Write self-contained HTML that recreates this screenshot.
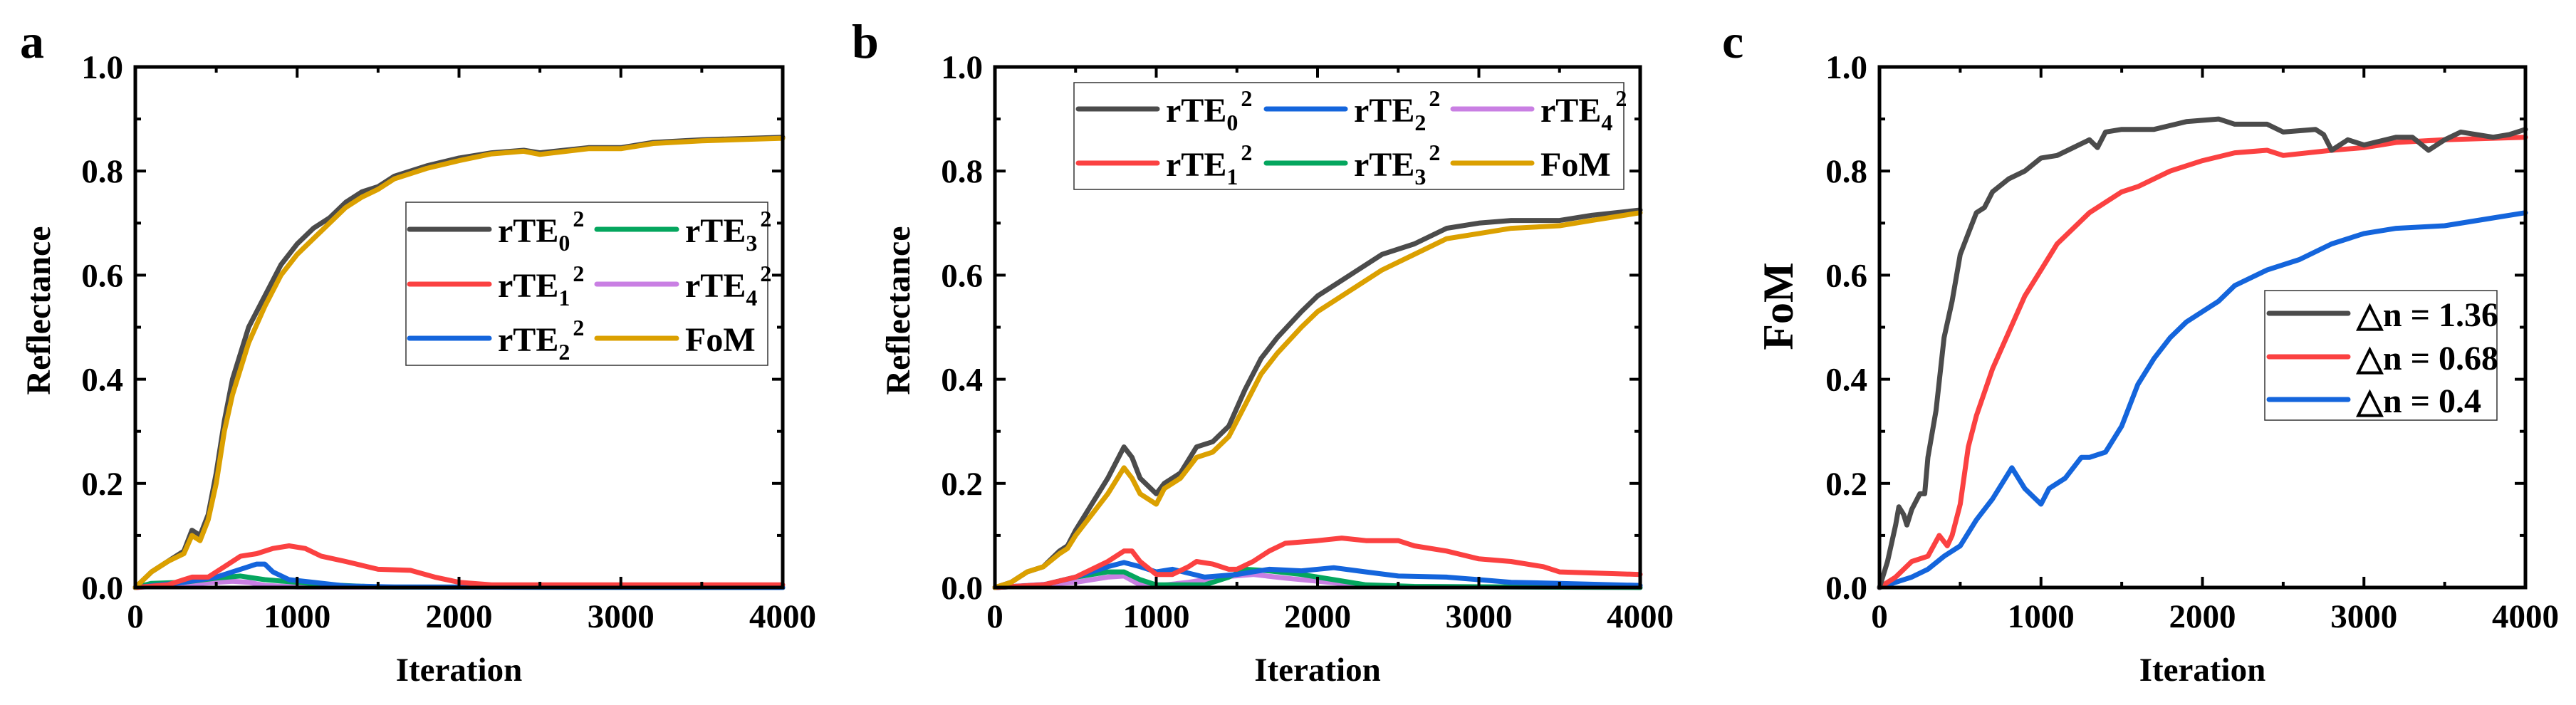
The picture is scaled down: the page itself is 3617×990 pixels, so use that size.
<!DOCTYPE html>
<html><head><meta charset="utf-8"><style>
html,body{margin:0;padding:0;background:#fff;}
svg{display:block;font-family:"Liberation Serif",serif;font-weight:bold;}
</style></head><body>
<svg id="fig" width="3617" height="990" viewBox="0 0 3617 990" xmlns="http://www.w3.org/2000/svg"></svg>
<script>
// ---------- Data (iteration, value) ----------
const xTicks = [0,1000,2000,3000,4000];
const yTicks = [0.0,0.2,0.4,0.6,0.8,1.0];
const yTickLabels = ["0.0","0.2","0.4","0.6","0.8","1.0"];

const aIter0 = [0,100,200,300,350,400,450,500,550,600,700,800,900,1000,1100,1200,1300,1400,1500,1600,1800,2000,2200,2400,2500,2800,3000,3200,3500,4000];
const aTE0   = [0,0.03,0.05,0.07,0.11,0.10,0.14,0.22,0.32,0.40,0.50,0.56,0.62,0.66,0.69,0.71,0.74,0.76,0.77,0.79,0.81,0.825,0.835,0.84,0.835,0.845,0.845,0.855,0.86,0.865];
const aFoM   = [0,0.03,0.05,0.065,0.10,0.09,0.13,0.20,0.30,0.37,0.47,0.54,0.60,0.64,0.67,0.70,0.73,0.75,0.765,0.785,0.805,0.82,0.833,0.838,0.832,0.843,0.843,0.853,0.858,0.863];
const aIter1 = [0,200,350,450,550,650,750,850,950,1050,1150,1300,1500,1700,1850,2000,2200,4000];
const aTE1   = [0,0.005,0.02,0.02,0.04,0.06,0.065,0.075,0.08,0.075,0.06,0.05,0.035,0.033,0.02,0.01,0.005,0.005];
const aIter2 = [0,300,500,650,750,800,850,950,1100,1300,1600,4000];
const aTE2   = [0,0.01,0.02,0.035,0.045,0.045,0.03,0.015,0.01,0.003,0.001,0];
const aIter3 = [0,100,300,500,650,800,1000,1200,1500,4000];
const aTE3   = [0,0.008,0.01,0.018,0.022,0.015,0.01,0.005,0.001,0];
const aIter4 = [0,400,600,700,800,1000,4000];
const aTE4   = [0,0.008,0.012,0.01,0.004,0.001,0];

const bIter0 = [0,100,200,300,400,450,500,600,700,800,850,900,1000,1050,1150,1250,1350,1450,1550,1650,1750,1900,2000,2100,2200,2400,2600,2800,3000,3200,3500,3700,4000];
const bTE0   = [0,0.01,0.03,0.04,0.07,0.08,0.11,0.16,0.21,0.27,0.25,0.21,0.18,0.20,0.22,0.27,0.28,0.31,0.38,0.44,0.48,0.53,0.56,0.58,0.60,0.64,0.66,0.69,0.70,0.705,0.705,0.715,0.725];
const bFoM   = [0,0.01,0.03,0.04,0.065,0.075,0.10,0.14,0.18,0.23,0.21,0.18,0.16,0.19,0.21,0.25,0.26,0.29,0.35,0.41,0.45,0.50,0.53,0.55,0.57,0.61,0.64,0.67,0.68,0.69,0.695,0.705,0.72];
const bIter1 = [0,300,500,700,800,850,900,1000,1100,1200,1250,1350,1450,1500,1600,1700,1800,2000,2150,2300,2500,2600,2800,3000,3200,3400,3500,4000];
const bTE1   = [0,0.005,0.02,0.05,0.07,0.07,0.05,0.025,0.025,0.04,0.05,0.045,0.035,0.035,0.05,0.07,0.085,0.09,0.095,0.09,0.09,0.08,0.07,0.055,0.05,0.04,0.03,0.025];
const bIter2 = [0,300,500,700,800,900,1000,1100,1300,1500,1700,1900,2100,2300,2500,2800,3000,3200,3500,4000];
const bTE2   = [0,0.005,0.02,0.04,0.048,0.04,0.03,0.035,0.02,0.025,0.035,0.032,0.038,0.03,0.022,0.02,0.015,0.01,0.008,0.004];
const bIter3 = [0,300,500,700,800,900,1000,1300,1450,1550,1700,1900,2100,2300,2600,4000];
const bTE3   = [0,0.005,0.02,0.03,0.03,0.015,0.005,0.005,0.02,0.035,0.032,0.025,0.015,0.005,0.002,0];
const bIter4 = [0,500,700,800,900,1000,1200,1400,1600,1800,2000,2200,2500,4000];
const bTE4   = [0,0.01,0.02,0.022,0.005,0.003,0.01,0.02,0.025,0.018,0.012,0.006,0.002,0];

const cIterA = [0,50,100,120,150,170,200,250,280,300,350,400,450,500,550,600,650,700,800,900,1000,1100,1200,1300,1350,1400,1500,1700,1900,2100,2200,2400,2500,2700,2750,2800,2900,3000,3200,3300,3400,3500,3600,3800,3900,4000];
const cDn136 = [0,0.05,0.12,0.155,0.14,0.12,0.15,0.18,0.18,0.25,0.34,0.48,0.55,0.64,0.68,0.72,0.73,0.76,0.785,0.80,0.825,0.83,0.845,0.86,0.845,0.875,0.88,0.88,0.895,0.90,0.89,0.89,0.875,0.88,0.87,0.84,0.86,0.85,0.865,0.865,0.84,0.86,0.875,0.865,0.87,0.88];
const cIterB = [0,100,200,300,370,420,450,500,550,600,700,800,900,1000,1100,1200,1300,1400,1500,1600,1800,2000,2200,2400,2500,2800,3000,3200,3500,4000];
const cDn068 = [0,0.02,0.05,0.06,0.10,0.08,0.10,0.16,0.27,0.33,0.42,0.49,0.56,0.61,0.66,0.69,0.72,0.74,0.76,0.77,0.80,0.82,0.835,0.84,0.83,0.84,0.845,0.855,0.86,0.865];
const cIterC = [0,100,200,300,400,500,600,700,820,900,1000,1050,1150,1250,1300,1400,1500,1600,1700,1800,1900,2000,2100,2200,2400,2600,2800,3000,3200,3500,3800,4000];
const cDn04  = [0,0.01,0.02,0.035,0.06,0.08,0.13,0.17,0.23,0.19,0.16,0.19,0.21,0.25,0.25,0.26,0.31,0.39,0.44,0.48,0.51,0.53,0.55,0.58,0.61,0.63,0.66,0.68,0.69,0.695,0.71,0.72];

const C = {te0:"#4b4b4b", te1:"#fb4141", te2:"#1465dc", te3:"#04a65e", te4:"#c97fe3", fom:"#dba000"};
const NS = "http://www.w3.org/2000/svg";
const svg = document.getElementById('fig');
function mk(tag, attrs, parent){ const e=document.createElementNS(NS,tag); for(const k in attrs) e.setAttribute(k,attrs[k]); (parent||svg).appendChild(e); return e; }

function panel(P){
  const g = mk('g',{});
  
  
  const sx = v => P.x0 + (v/4000)*(P.x1-P.x0);
  const sy = v => P.y1 - v*(P.y1-P.y0);
  P.series.forEach(s=>{
    let d=''; s.x.forEach((xv,i)=>{ d += (i?'L':'M')+sx(xv).toFixed(1)+','+sy(s.y[i]).toFixed(1); });
    const p = mk('path',{d:d, fill:'none', stroke:s.color, 'stroke-width':7, 'stroke-linejoin':'round', 'stroke-linecap':'round'}, g);
    
    
  });
  const fr = mk('rect',{x:P.x0,y:P.y0,width:P.x1-P.x0,height:P.y1-P.y0,fill:'none',stroke:'#000','stroke-width':5}, g);
  
  
  for(let v=0; v<=4000; v+=500){
    const X=sx(v), L=(v%1000===0)?15:8;
    mk('line',{x1:X,y1:P.y1,x2:X,y2:P.y1-L,stroke:'#000','stroke-width':4},g);
    mk('line',{x1:X,y1:P.y0,x2:X,y2:P.y0+L,stroke:'#000','stroke-width':4},g);
  }
  xTicks.forEach(v=>{
    const t=mk('text',{x:sx(v),y:P.y1+56,'font-size':47,'text-anchor':'middle'},g); t.textContent=v;
    
    
  });
  for(let i=0;i<=10;i++){
    const v=i/10, Y=sy(v), L=(i%2===0)?15:8;
    mk('line',{x1:P.x0,y1:Y,x2:P.x0+L,y2:Y,stroke:'#000','stroke-width':4},g);
    mk('line',{x1:P.x1,y1:Y,x2:P.x1-L,y2:Y,stroke:'#000','stroke-width':4},g);
  }
  yTicks.forEach((v,i)=>{
    const t=mk('text',{x:P.x0-17,y:sy(v)+16,'font-size':47,'text-anchor':'end'},g); t.textContent=yTickLabels[i];
    
    
  });
  const xt=mk('text',{x:(P.x0+P.x1)/2,y:956,'font-size':47,'text-anchor':'middle'},g); xt.textContent='Iteration';
  
  
  const yt=mk('text',{x:0,y:0,'font-size':P.ytSize,'text-anchor':'middle',transform:`translate(${P.ytX},${P.ytY}) rotate(-90)`},g); yt.textContent=P.ytitle;
  
  
  const lt=mk('text',{x:P.letX,y:81,'font-size':68},g); lt.textContent=P.letter;
  
  
  const L=P.legend;
  const lg=mk('g',{},g);
  
  
  mk('rect',{x:L.x,y:L.y,width:L.w,height:L.h,fill:'#fff',stroke:'#333','stroke-width':1.5},lg);
  L.items.forEach(it=>{
    const e=mk('g',{},lg);
    
    
    mk('line',{x1:it.lx,y1:it.y,x2:it.lx+L.lw,y2:it.y,stroke:it.color,'stroke-width':7,'stroke-linecap':'round'},e);
    const t=mk('text',{x:it.lx+L.lw+12,y:it.y+18,'font-size':48},e);
    if(it.sub!==undefined){
      t.appendChild(document.createTextNode('rTE'));
      const s1=mk('tspan',{'font-size':32,dy:12},t); s1.textContent=it.sub;
      const s2=mk('tspan',{'font-size':32,dy:-34,dx:4},t); s2.textContent='2';
    } else t.textContent=it.label;
  });
}

panel({name:'panel-a',letter:'a',letX:28,x0:190,x1:1099,y0:94,y1:825,ytitle:'Reflectance',ytSize:48,ytX:70,ytY:436,
  series:[
    {id:'a-rte4',x:aIter4,y:aTE4,color:C.te4},{id:'a-rte3',x:aIter3,y:aTE3,color:C.te3},
    {id:'a-rte2',x:aIter2,y:aTE2,color:C.te2},{id:'a-rte1',x:aIter1,y:aTE1,color:C.te1},
    {id:'a-rte0',x:aIter0,y:aTE0,color:C.te0},{id:'a-fom',x:aIter0,y:aFoM,color:C.fom}],
  legend:{x:570,y:284,w:508,h:229,lw:112,items:[
    {lx:575,y:322,color:C.te0,sub:'0'},{lx:575,y:399,color:C.te1,sub:'1'},{lx:575,y:475,color:C.te2,sub:'2'},
    {lx:838,y:322,color:C.te3,sub:'3'},{lx:838,y:399,color:C.te4,sub:'4'},{lx:838,y:475,color:C.fom,label:'FoM'}]}
});
panel({name:'panel-b',letter:'b',letX:1196,x0:1397,x1:2303,y0:94,y1:825,ytitle:'Reflectance',ytSize:48,ytX:1277,ytY:436,
  series:[
    {id:'b-rte4',x:bIter4,y:bTE4,color:C.te4},{id:'b-rte3',x:bIter3,y:bTE3,color:C.te3},
    {id:'b-rte2',x:bIter2,y:bTE2,color:C.te2},{id:'b-rte1',x:bIter1,y:bTE1,color:C.te1},
    {id:'b-rte0',x:bIter0,y:bTE0,color:C.te0},{id:'b-fom',x:bIter0,y:bFoM,color:C.fom}],
  legend:{x:1508,y:116,w:772,h:150,lw:111,items:[
    {lx:1514,y:153,color:C.te0,sub:'0'},{lx:1514,y:229,color:C.te1,sub:'1'},
    {lx:1778,y:153,color:C.te2,sub:'2'},{lx:1778,y:229,color:C.te3,sub:'3'},
    {lx:2040,y:153,color:C.te4,sub:'4'},{lx:2040,y:229,color:C.fom,label:'FoM'}]}
});
panel({name:'panel-c',letter:'c',letX:2418,x0:2639,x1:3546,y0:94,y1:825,ytitle:'FoM',ytSize:60,ytX:2517,ytY:430,
  series:[
    {id:'c-dn04',x:cIterC,y:cDn04,color:C.te2},{id:'c-dn068',x:cIterB,y:cDn068,color:C.te1},
    {id:'c-dn136',x:cIterA,y:cDn136,color:C.te0}],
  legend:{x:3180,y:408,w:326,h:182,lw:111,items:[
    {lx:3186,y:440,color:C.te0,label:'△n = 1.36'},{lx:3186,y:501,color:C.te1,label:'△n = 0.68'},
    {lx:3186,y:561,color:C.te2,label:'△n = 0.4'}]}
});
</script>
</body></html>
